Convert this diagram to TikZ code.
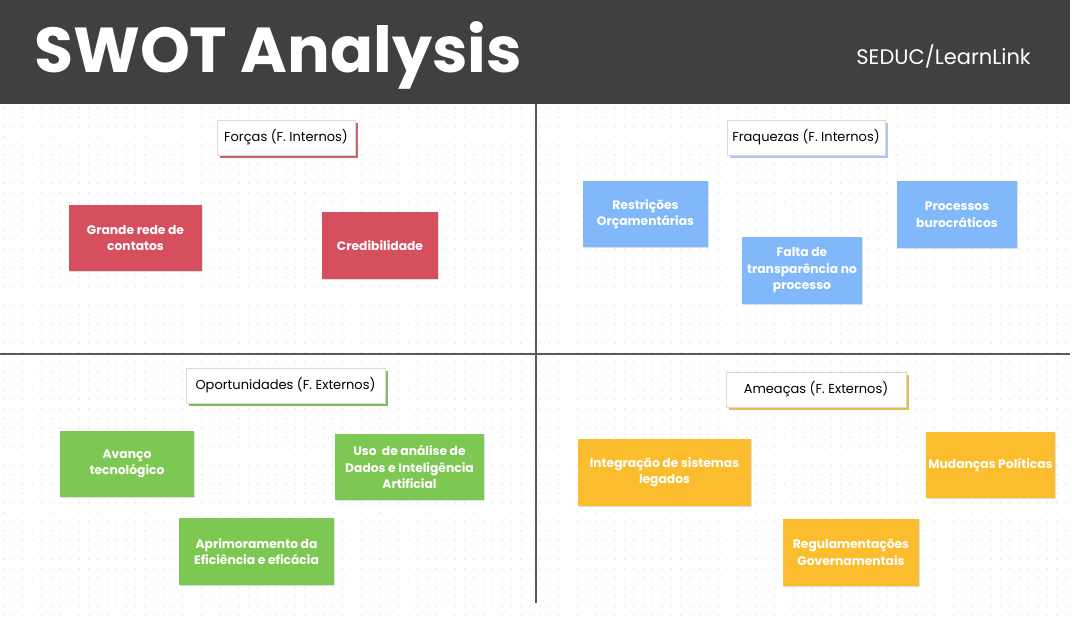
\documentclass[tikz,border=0pt]{standalone}
\usepackage{fontspec}
\setmainfont{Poppins}
\usetikzlibrary{shadows}
\definecolor{hdr}{HTML}{404040}
\definecolor{dotc}{HTML}{E4E4E4}
\definecolor{sred}{HTML}{D64F5F}
\definecolor{sblue}{HTML}{80B8FA}
\definecolor{sgreen}{HTML}{7DC852}
\definecolor{syel}{HTML}{FBBC2E}
\definecolor{shred}{HTML}{C8626F}
\definecolor{shblue}{HTML}{A9C9F2}
\definecolor{shgreen}{HTML}{7FBE5A}
\definecolor{shyel}{HTML}{E7BC4E}
\tikzset{
  note/.style={rectangle, inner sep=2pt, align=center, text=white,
    font=\bfseries\fontsize{12.3}{16.5}\selectfont,
    drop shadow={shadow xshift=0.6pt, shadow yshift=-1.2pt, fill=black, opacity=0.12}},
  rednote/.style={note, fill=sred},
  bluenote/.style={note, fill=sblue},
  greennote/.style={note, fill=sgreen},
  yelnote/.style={note, fill=syel},
  lbl/.style={rectangle, fill=white, draw=black!15, line width=0.6pt, inner sep=2pt,
    font=\fontsize{13}{15}\selectfont, text=black},
  divider/.style={draw=black!65, line width=1.4pt}
}
\begin{document}
\begin{tikzpicture}[x=1pt,y=-1pt]
\useasboundingbox (0,0) rectangle (1072,621);
\fill[white] (0,0) rectangle (1072,621);
% dotted grid
\foreach \i in {0,...,113} {
  \foreach \j in {0,...,54} {
    \fill[dotc] (4+9.4*\i, 108+9.4*\j) circle (0.8);
  }
}
% header
\fill[hdr] (0,0) rectangle (1070,104);
\node[anchor=west, text=white, inner sep=0pt, font=\fontsize{63.5}{64}\selectfont\bfseries] (title) at (34,55) {SWOT Analysis};
\node[anchor=east, text=white, inner sep=0pt, font=\fontsize{21}{21}\selectfont] (org) at (1031,56) {SEDUC/LearnLink};
% dividers
\coordinate (vtop) at (536,104);
\coordinate (vbot) at (536,603);
\coordinate (hl) at (0,354);
\coordinate (hr) at (1070,354);
\draw[divider] (vtop) -- (vbot);
\draw[divider] (hl) -- (hr);
% labels
\node[lbl, minimum width=138pt, minimum height=35pt, drop shadow={shadow xshift=3pt, shadow yshift=-3pt, fill=shred, opacity=1}] (lf) at (286,137.5) {Forças (F. Internos)};
\node[lbl, minimum width=158pt, minimum height=35pt, drop shadow={shadow xshift=3pt, shadow yshift=-3pt, fill=shblue, opacity=1}] (lw) at (806,137.5) {Fraquezas (F. Internos)};
\node[lbl, minimum width=199pt, minimum height=35pt, drop shadow={shadow xshift=3pt, shadow yshift=-3pt, fill=shgreen, opacity=1}] (lo) at (285.5,385.5) {Oportunidades (F. Externos)};
\node[lbl, minimum width=180pt, minimum height=35pt, drop shadow={shadow xshift=3pt, shadow yshift=-3pt, fill=shyel, opacity=1}] (lt) at (816,389.5) {Ameaças (F. Externos)};
% strengths
\node[rednote, minimum width=133pt, minimum height=66pt] (s1) at (135.5,238) {Grande rede de\\contatos};
\node[rednote, minimum width=116pt, minimum height=67pt] (s2) at (380,245.5) {Credibilidade};
% weaknesses
\node[bluenote, minimum width=125pt, minimum height=66pt] (w1) at (645.5,214) {Restrições\\Orçamentárias};
\node[bluenote, minimum width=120pt, minimum height=67pt] (w2) at (802,270.5) {Falta de\\transparência no\\processo};
\node[bluenote, minimum width=120pt, minimum height=67pt] (w3) at (957,214.5) {Processos\\burocráticos};
% opportunities
\node[greennote, minimum width=134pt, minimum height=66pt] (o1) at (127,464) {Avanço\\tecnológico};
\node[greennote, minimum width=149pt, minimum height=66pt] (o2) at (409.5,467) {Uso\ \ de análise de\\Dados e Inteligência\\Artificial};
\node[greennote, minimum width=155pt, minimum height=67pt] (o3) at (256.5,551.5) {Aprimoramento da\\Eficiência e eficácia};
% threats
\node[yelnote, minimum width=173pt, minimum height=67pt] (t1) at (664.5,472.5) {Integração de sistemas\\legados};
\node[yelnote, minimum width=129pt, minimum height=66pt] (t2) at (990.5,465) {Mudanças Políticas};
\node[yelnote, minimum width=136pt, minimum height=67pt] (t3) at (851,552.5) {Regulamentações\\Governamentais};
\end{tikzpicture}
\end{document}
